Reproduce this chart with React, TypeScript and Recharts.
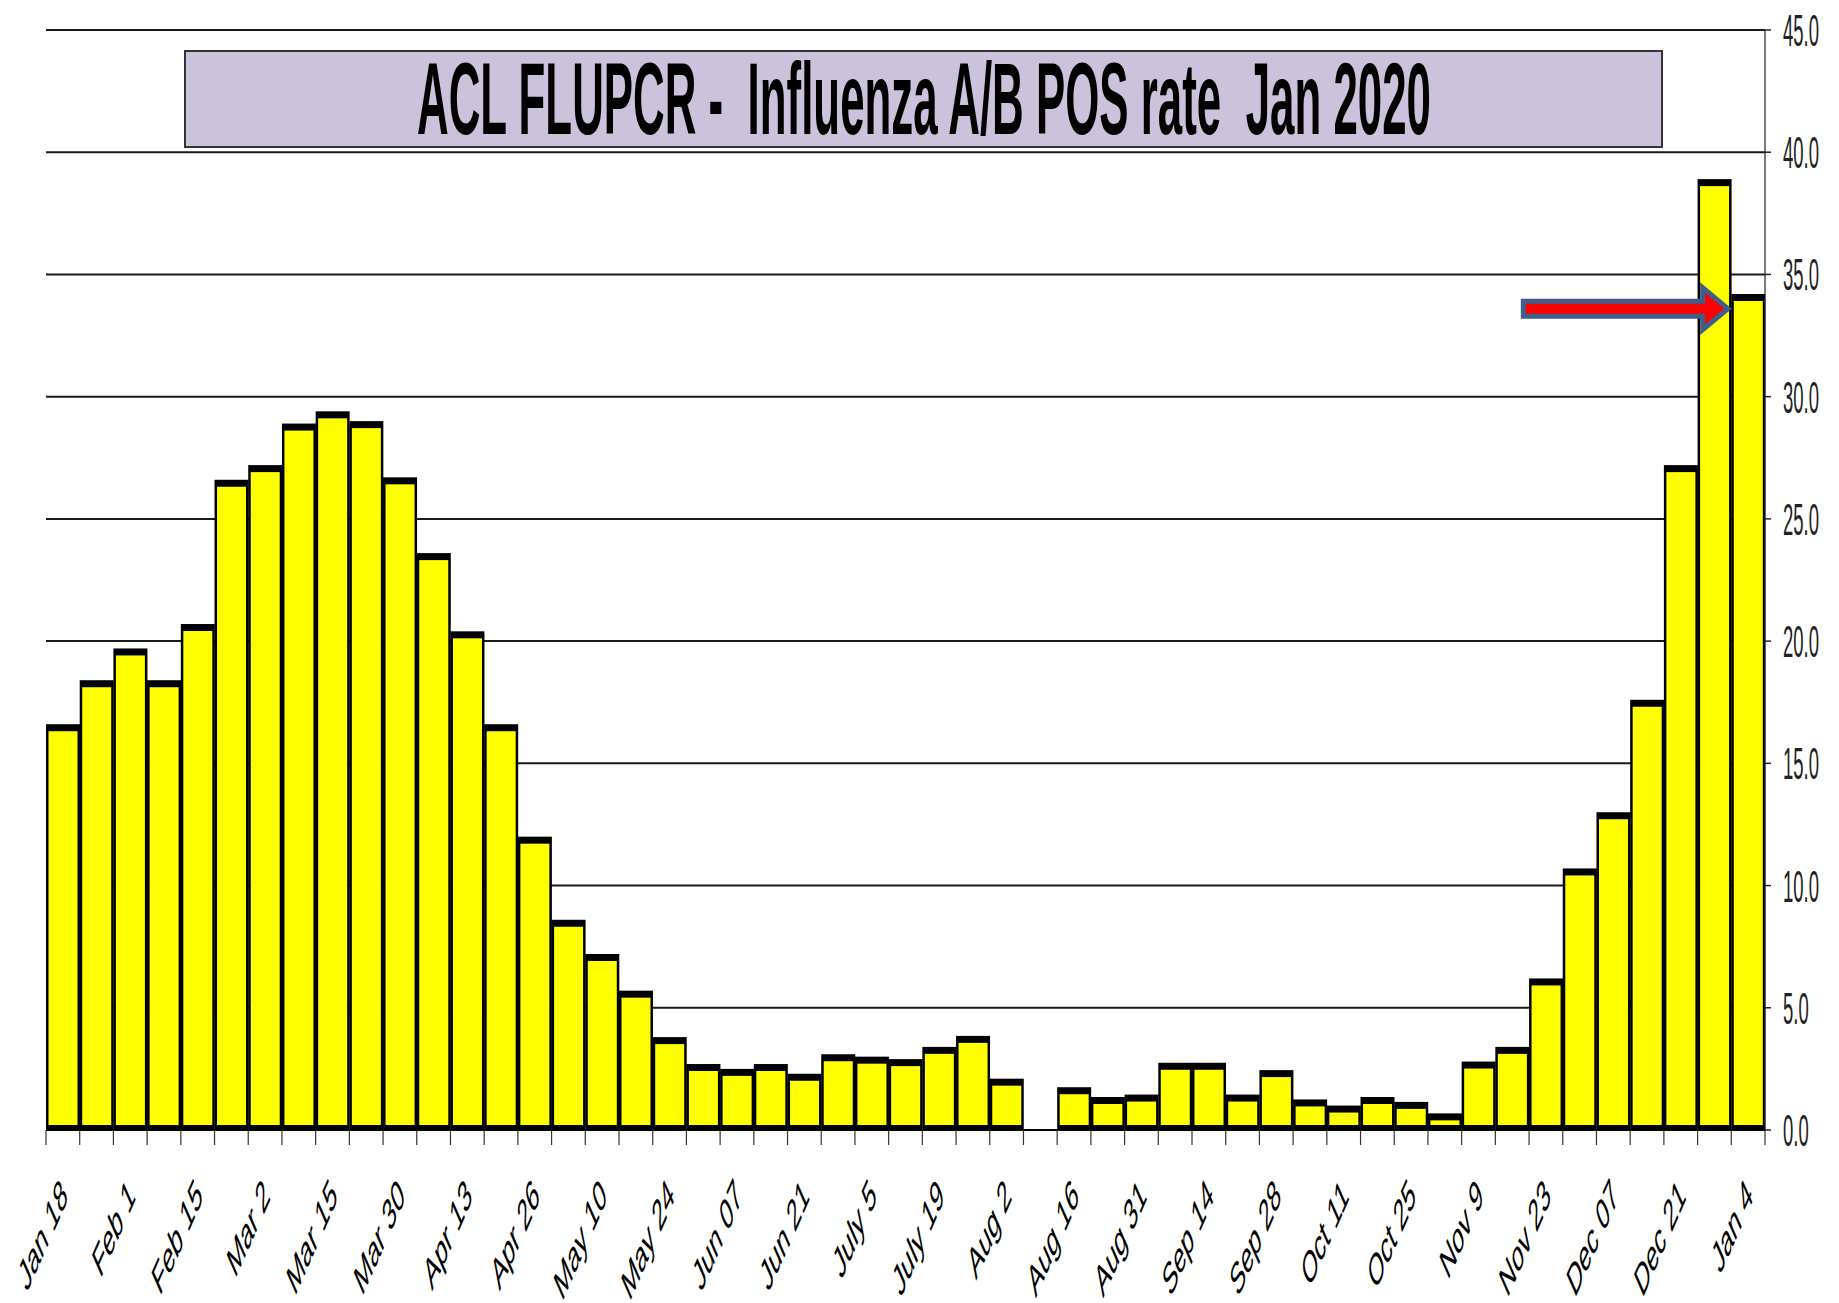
import React from 'react';
import { BarChart, Bar, XAxis, YAxis, CartesianGrid } from 'recharts';

// ---- data ----
const weekLabels: string[] = [
  'Jan 18', '', 'Feb 1', '', 'Feb 15', '', 'Mar 2', '', 'Mar 15', '', 'Mar 30', '',
  'Apr 13', '', 'Apr 26', '', 'May 10', '', 'May 24', '', 'Jun 07', '', 'Jun 21', '',
  'July 5', '', 'July 19', '', 'Aug 2', '', 'Aug 16', '', 'Aug 31', '', 'Sep 14', '',
  'Sep 28', '', 'Oct 11', '', 'Oct 25', '', 'Nov 9', '', 'Nov 23', '', 'Dec 07', '',
  'Dec 21', '', 'Jan 4',
];

const posRate: (number | null)[] = [
  16.6, 18.4, 19.7, 18.4, 20.7, 26.6, 27.2, 28.9, 29.4, 29.0, 26.7, 23.6,
  20.4, 16.6, 12.0, 8.6, 7.2, 5.7, 3.8, 2.7, 2.5, 2.7, 2.3, 3.1,
  3.0, 2.9, 3.4, 3.85, 2.1, null, 1.75, 1.35, 1.45, 2.75, 2.75, 1.45,
  2.45, 1.25, 1.0, 1.35, 1.15, 0.68, 2.8, 3.4, 6.2, 10.7, 13.0, 17.6,
  27.2, 38.9, 34.2,
];

const yTicks = [0, 5, 10, 15, 20, 25, 30, 35, 40, 45];
const titleText = 'ACL FLUPCR -  Influenza A/B POS rate  Jan 2020';
const arrowLevel = 33.6; // value level the arrow points at

const data = posRate.map((v, i) => ({ week: i, label: weekLabels[i], value: v }));

// ---- layout ----
const W = 1839;
const H = 1303;
const MARGIN = { top: 30, right: 0, bottom: 0, left: 46 };
const Y_AXIS_W = 74;
const X_AXIS_H = 173;
const PLOT_W = W - MARGIN.left - MARGIN.right - Y_AXIS_W;
const PLOT_H = H - MARGIN.top - MARGIN.bottom - X_AXIS_H;
const BAND = PLOT_W / posRate.length;
const Y_MAX = 45;
const yPix = (v: number) => MARGIN.top + PLOT_H * (1 - v / Y_MAX);
const xPix = (bandPos: number) => MARGIN.left + bandPos * BAND;

const FONT = '"Liberation Sans", Arial, sans-serif';

const BarShape = (props: any) => {
  const { x, y, width, height } = props;
  if (height == null || !isFinite(height) || height <= 0) return <g />;
  const side = 2.5;
  const top = 7;
  const bottom = 5;
  return (
    <g>
      <rect x={x} y={y} width={width} height={height + 2} fill="#000" />
      <rect
        x={x + side}
        y={y + top}
        width={Math.max(0, width - 2 * side)}
        height={Math.max(0, height - top - bottom)}
        fill="#FFFF00"
      />
    </g>
  );
};

const XTick = (props: any) => {
  const { x, y, payload } = props;
  const idx = Number(payload.value);
  const label = weekLabels[idx];
  const left = x - BAND / 2;
  const right = x + BAND / 2;
  return (
    <g>
      <line x1={left} y1={y} x2={left} y2={y + 15} stroke="#333" strokeWidth={1.2} />
      {idx === posRate.length - 1 && (
        <line x1={right} y1={y} x2={right} y2={y + 15} stroke="#333" strokeWidth={1.2} />
      )}
      {label && (
        <text
          transform={`translate(${x + 6},${y + 68}) scale(0.44,1) rotate(-45)`}
          textAnchor="end"
          fontFamily={FONT}
          fontSize={45}
          fill="#000"
        >
          {label}
        </text>
      )}
    </g>
  );
};

const YTick = (props: any) => {
  const { x, y, payload } = props;
  return (
    <text
      transform={`translate(${x},${y + 16}) scale(0.42,1)`}
      textAnchor="start"
      fontFamily={FONT}
      fontSize={44}
      fill="#222"
    >
      {Number(payload.value).toFixed(1)}
    </text>
  );
};

const Overlay = () => {
  // title box
  const bx = 185, by = 51, bw = 1477, bh = 96;
  // arrow annotation pointing at the last bar
  const ay = yPix(arrowLevel);
  const ax0 = xPix(43.83);
  const axb = xPix(49.15);
  const axt = xPix(49.9);
  const sh = 7.5;
  const hh = 21;
  const arrowPath = `M${ax0},${ay - sh} L${axb},${ay - sh} L${axb},${ay - hh} L${axt},${ay} L${axb},${ay + hh} L${axb},${ay + sh} L${ax0},${ay + sh} Z`;
  return (
    <svg
      width={W}
      height={H}
      style={{ position: 'absolute', left: 0, top: 0, pointerEvents: 'none' }}
    >
      <rect x={bx} y={by} width={bw} height={bh} fill="#CBC2DB" stroke="#333" strokeWidth={2} />
      <text
        x={417}
        y={134}
        textLength={1014}
        lengthAdjust="spacingAndGlyphs"
        fontFamily={FONT}
        fontWeight="bold"
        fontSize={102}
        fill="#000"
        style={{ whiteSpace: 'pre' }}
        xmlSpace="preserve"
      >
        {titleText}
      </text>
      <path d={arrowPath} fill="#FF0000" stroke="#3F5E8C" strokeWidth={5} strokeLinejoin="miter" />
    </svg>
  );
};

export default function App() {
  return (
    <div
      style={{
        position: 'absolute',
        left: 0,
        top: 0,
        width: W,
        height: H,
        background: '#fff',
        overflow: 'hidden',
      }}
    >
      <BarChart width={W} height={H} data={data} margin={MARGIN} barCategoryGap={0}>
        <CartesianGrid horizontal vertical={false} stroke="#1a1a1a" strokeWidth={2} />
        <XAxis
          dataKey="week"
          type="category"
          interval={0}
          height={X_AXIS_H}
          tickSize={0}
          tickMargin={0}
          tickLine={false}
          axisLine={{ stroke: '#000', strokeWidth: 2 }}
          tick={<XTick />}
        />
        <YAxis
          orientation="right"
          domain={[0, Y_MAX]}
          ticks={yTicks}
          width={Y_AXIS_W}
          tickSize={6}
          tickMargin={12}
          axisLine={{ stroke: '#222', strokeWidth: 1.2 }}
          tickLine={{ stroke: '#222', strokeWidth: 1.5 }}
          tick={<YTick />}
          interval={0}
          allowDataOverflow
        />
        <Bar dataKey="value" isAnimationActive={false} shape={<BarShape />} />
      </BarChart>
      <Overlay />
    </div>
  );
}
